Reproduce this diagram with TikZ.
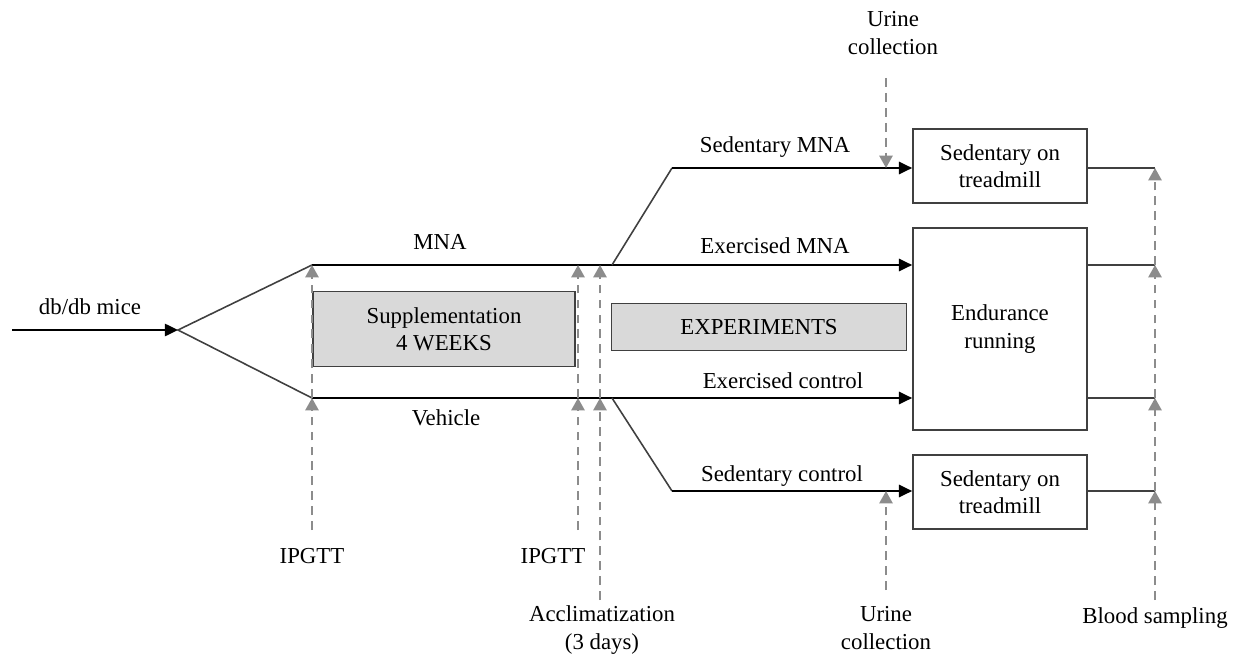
\documentclass[tikz,border=0pt]{standalone}
\usepackage{fontspec}
\setmainfont{Liberation Serif}
\usetikzlibrary{arrows.meta, positioning, calc}
\definecolor{boxgray}{HTML}{D9D9D9}
\definecolor{edgegray}{HTML}{404040}
\definecolor{markgray}{HTML}{8C8C8C}
\tikzset{
    base/.style={draw=edgegray, line width=1pt, font=\fontsize{13}{15.5}\selectfont, align=center, inner sep=2pt},
    stage/.style={base, rectangle, fill=white, minimum width=3.48cm},
    stageshaded/.style={base, rectangle, fill=boxgray},
    note/.style={font=\fontsize{13}{15.5}\selectfont, align=center, inner sep=1pt},
    flow/.style={draw=black, line width=1.2pt, -{Triangle[length=7.5pt,width=7pt]}},
    fork-line/.style={draw=edgegray, line width=0.9pt},
    sample-line/.style={draw=markgray, line width=1.1pt, dash pattern=on 5pt off 3.5pt, -{Triangle[length=7pt,width=7.5pt]}}
}

\begin{document}
\begin{tikzpicture}[x=0.02cm, y=-0.02cm]
    \useasboundingbox (0,0) rectangle (1233,655);

    % stage boxes
    \node [stage, minimum height=1.48cm] (SedTop) at (1000,166) {Sedentary on\\treadmill};
    \node [stage, minimum height=4.04cm] (Run) at (1000,329) {Endurance\\running};
    \node [stage, minimum height=1.48cm] (SedBot) at (1000,492) {Sedentary on\\treadmill};
    \node [stageshaded, minimum width=5.24cm, minimum height=1.5cm] (Supp) at (444,329) {Supplementation\\4 WEEKS};
    \node [stageshaded, minimum width=5.9cm, minimum height=0.94cm] (Exp) at (759,327) {EXPERIMENTS};

    % branch points
    \coordinate (In) at (12,330);
    \coordinate (Fork) at (178,330);
    \coordinate (MnaStart) at (312,265);
    \coordinate (VehStart) at (312,398);
    \coordinate (MnaSplit) at (612,265);
    \coordinate (VehSplit) at (612,398);
    \coordinate (SedMna) at (672,168);
    \coordinate (SedCtl) at (672,491);
    \coordinate (OutA) at (1155,168);
    \coordinate (OutB) at (1155,265);
    \coordinate (OutC) at (1155,398);
    \coordinate (OutD) at (1155,491);

    \draw [flow] (In) -- (Fork);
    \draw [fork-line] (MnaStart) -- (Fork) -- (VehStart);
    \draw [flow] (MnaStart) -- (Run.west |- MnaStart);
    \draw [flow] (VehStart) -- (Run.west |- VehStart);
    \draw [fork-line] (MnaSplit) -- (SedMna);
    \draw [fork-line] (VehSplit) -- (SedCtl);
    \draw [flow] (SedMna) -- (SedTop.west |- SedMna);
    \draw [flow] (SedCtl) -- (SedBot.west |- SedCtl);

    \draw [fork-line] (SedTop.east |- OutA) -- (OutA);
    \draw [fork-line] (Run.east |- OutB) -- (OutB);
    \draw [fork-line] (Run.east |- OutC) -- (OutC);
    \draw [fork-line] (SedBot.east |- OutD) -- (OutD);

    % group labels
    \node [note] (Mice) at (90,307) {db/db mice};
    \node [note] (MnaTxt) at (440,242) {MNA};
    \node [note] (VehTxt) at (446,418) {Vehicle};
    \node [note] (SedMnaTxt) at (775,147) {Sedentary MNA};
    \node [note] (ExMnaTxt) at (775,246) {Exercised MNA};
    \node [note] (ExCtlTxt) at (783,381) {Exercised control};
    \node [note] (SedCtlTxt) at (782,476) {Sedentary control};

    % sampling points
    \node [note] (IpgttOne) at (312,556) {IPGTT};
    \node [note] (IpgttTwo) at (553,556) {IPGTT};
    \node [note] (Accl) at (602,630) {Acclimatization\\(3 days)};
    \node [note] (UrineTop) at (893,33) {Urine\\collection};
    \node [note] (UrineBot) at (886,628) {Urine\\collection};
    \node [note] (Blood) at (1155,618) {Blood sampling};

    \coordinate (IpgttA) at (312,530);
    \coordinate (IpgttB) at (578,530);
    \coordinate (AcclA) at (600,600);
    \coordinate (UrineA) at (886,78);
    \coordinate (UrineB) at (886,590);
    \coordinate (BloodA) at (1155,600);

    \draw [sample-line] (IpgttA) -- (VehStart);
    \draw [sample-line] (VehStart) -- (MnaStart);
    \draw [sample-line] (IpgttB) -- (IpgttB |- VehStart);
    \draw [sample-line] (IpgttB |- VehStart) -- (IpgttB |- MnaStart);
    \draw [sample-line] (AcclA) -- (AcclA |- VehStart);
    \draw [sample-line] (AcclA |- VehStart) -- (AcclA |- MnaStart);
    \draw [sample-line] (UrineA) -- (UrineA |- SedMna);
    \draw [sample-line] (UrineB) -- (UrineB |- SedCtl);
    \draw [sample-line] (BloodA) -- (OutD);
    \draw [sample-line] (OutD) -- (OutC);
    \draw [sample-line] (OutC) -- (OutB);
    \draw [sample-line] (OutB) -- (OutA);
\end{tikzpicture}
\end{document}
